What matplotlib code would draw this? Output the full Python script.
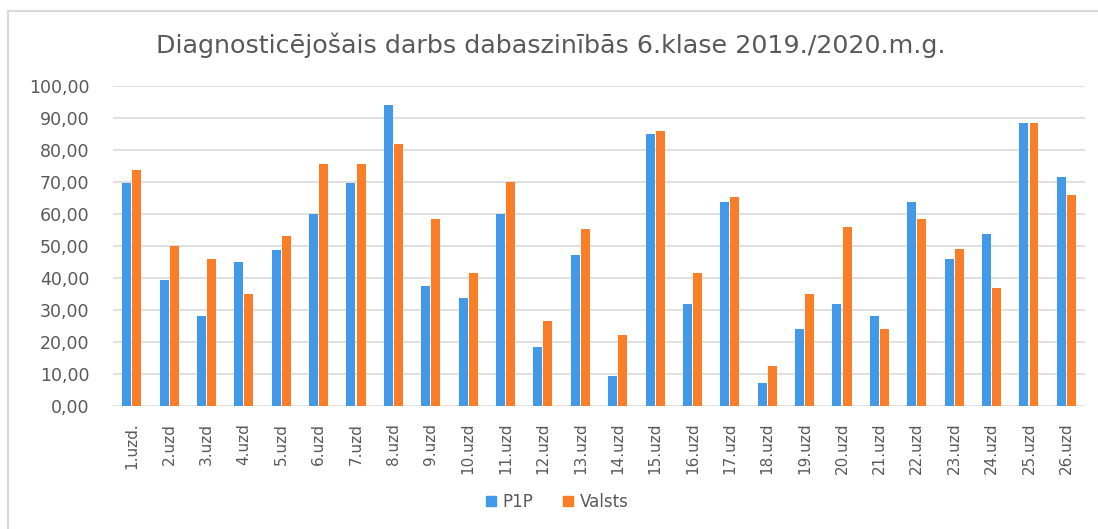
import matplotlib.pyplot as plt
import numpy as np
from matplotlib.lines import Line2D

# ====================== DATA ======================
labels = ['1.uzd.'] + [f'{i}.uzd' for i in range(2, 27)]

p1p = [69.6, 39.5, 28.2, 45.0, 48.6, 59.9, 69.6, 94.2, 37.4, 33.8,
       59.9, 18.5, 47.2, 9.4, 85.0, 31.8, 63.9, 7.3, 24.1, 31.8,
       28.2, 63.9, 46.0, 53.8, 88.5, 71.5]

valsts = [73.7, 50.1, 46.0, 34.9, 53.2, 75.7, 75.7, 81.9, 58.4, 41.5,
          70.0, 26.7, 55.2, 22.1, 86.0, 41.5, 65.4, 12.4, 34.9, 55.8,
          24.1, 58.4, 49.0, 36.8, 88.5, 66.0]

blue = '#4299e8'
orange = '#fa7d28'
grey_text = '#595959'

plt.rcParams['font.family'] = ['DejaVu Sans']

# ====================== PLOT ======================
fig = plt.figure(figsize=(10.98, 5.29), dpi=100)
ax = fig.add_axes([0.1029, 0.2325, 0.8853, 0.6049])

x = np.arange(len(labels))
width = 0.24
ax.bar(x - 0.135, p1p, width, color=blue, label='P1P')
ax.bar(x + 0.135, valsts, width, color=orange, label='Valsts')

ax.set_xlim(-0.5, len(labels) - 0.5)
ax.set_ylim(0, 100)
ax.set_yticks(np.arange(0, 101, 10))
ax.set_yticklabels([f'{v:.2f}'.replace('.', ',') for v in range(0, 101, 10)],
                   fontsize=12.5, color=grey_text)
ax.set_xticks(x)
ax.set_xticklabels(labels, rotation=90, fontsize=11, color=grey_text)
ax.tick_params(axis='both', length=0)
ax.tick_params(axis='y', pad=17)
ax.tick_params(axis='x', pad=12)

ax.grid(True, axis='y', color='#d9d9d9', linewidth=1.2)
ax.set_axisbelow(True)
for s in ['top', 'right', 'left', 'bottom']:
    ax.spines[s].set_visible(False)

fig.text(0.502, 0.915, 'Diagnosticējošais darbs dabaszinībās 6.klase 2019./2020.m.g.',
         ha='center', va='center', fontsize=18.3, color=grey_text)

handles = [Line2D([], [], marker='s', linestyle='none', markersize=7, color=blue),
           Line2D([], [], marker='s', linestyle='none', markersize=7, color=orange)]
fig.legend(handles, ['P1P', 'Valsts'], loc='center', bbox_to_anchor=(0.506, 0.051),
           ncol=2, frameon=False, fontsize=12, labelcolor=grey_text,
           handletextpad=0.2, columnspacing=1.6, handlelength=1.0)

# outer border (top and left visible)
fig.add_artist(Line2D([8 / 1098, 8 / 1098], [0, 1 - 11 / 529], color='#d9d9d9', linewidth=1.5))
fig.add_artist(Line2D([8 / 1098, 1], [1 - 11 / 529, 1 - 11 / 529], color='#d9d9d9', linewidth=1.5))

plt.savefig('out.png', dpi=100)
